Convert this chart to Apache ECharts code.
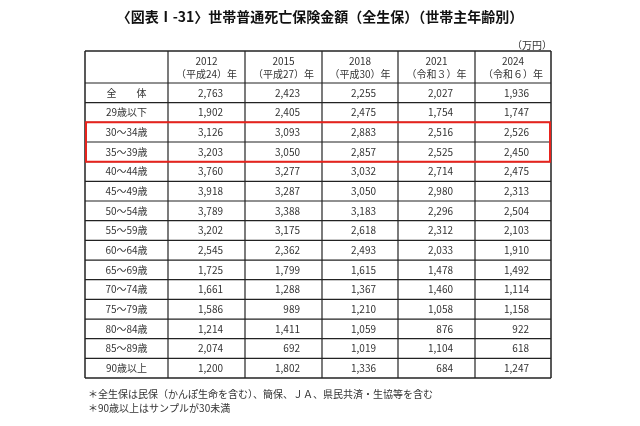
<!DOCTYPE html>
<html><head><meta charset="utf-8">
<script src="https://cdn.jsdelivr.net/npm/echarts@6/dist/echarts.min.js"></script>
<style>html,body{margin:0;background:#fff}#c{width:640px;height:426px}</style>
</head><body><div id="c"></div>
<script>
const years = ['2012', '2015', '2018', '2021', '2024'];
const eras = ['（平成24）年', '（平成27）年', '（平成30）年', '（令和３）年', '（令和６）年'];
const ages = ['全　　体', '29歳以下', '30～34歳', '35～39歳', '40～44歳', '45～49歳', '50～54歳', '55～59歳',
  '60～64歳', '65～69歳', '70～74歳', '75～79歳', '80～84歳', '85～89歳', '90歳以上'];
const v2012 = [2763, 1902, 3126, 3203, 3760, 3918, 3789, 3202, 2545, 1725, 1661, 1586, 1214, 2074, 1200];
const v2015 = [2423, 2405, 3093, 3050, 3277, 3287, 3388, 3175, 2362, 1799, 1288, 989, 1411, 692, 1802];
const v2018 = [2255, 2475, 2883, 2857, 3032, 3050, 3183, 2618, 2493, 1615, 1367, 1210, 1059, 1019, 1336];
const v2021 = [2027, 1754, 2516, 2525, 2714, 2980, 2296, 2312, 2033, 1478, 1460, 1058, 876, 1104, 684];
const v2024 = [1936, 1747, 2526, 2450, 2475, 2313, 2504, 2103, 1910, 1492, 1114, 1158, 922, 618, 1247];
const cols = [v2012, v2015, v2018, v2021, v2024];

const chart = echarts.init(document.getElementById('c'));
const F = '"Noto Sans CJK JP", sans-serif';
const xs = [85, 168, 245, 322, 398, 475, 551];
const tTop = 51, headH = 32, rowH = 19.67;
const tBottom = tTop + headH + rowH * ages.length;
const g = [];
const line = (x1, y1, x2, y2, w, c) => g.push({type: 'line', shape: {x1, y1, x2, y2}, style: {stroke: c || '#222', lineWidth: w || 1}});

g.push({type: 'text', x: 320, y: 17, style: {text: '〈図表Ⅰ-31〉世帯普通死亡保険金額（全生保）（世帯主年齢別）', font: 'bold 14px ' + F, fill: '#111', align: 'center', verticalAlign: 'middle'}});
g.push({type: 'text', x: 552, y: 45, style: {text: '（万円）', font: '10px ' + F, fill: '#333', align: 'right', verticalAlign: 'middle'}});

// grid lines
xs.forEach((x, i) => line(x, tTop, x, tBottom, (i === 0 || i === xs.length - 1) ? 1.5 : 1.2));
line(xs[0], tTop, xs[6], tTop, 1.5);
for (let r = 0; r <= ages.length; r++) {
  const y = tTop + headH + r * rowH;
  line(xs[0], y, xs[6], y, r === ages.length ? 1.5 : 1.2);
}
// header
years.forEach((y, i) => {
  const cx = (xs[i + 1] + xs[i + 2]) / 2;
  g.push({type: 'text', x: cx, y: tTop + 10, style: {text: y, font: '10px ' + F, fill: '#333', align: 'center', verticalAlign: 'middle'}});
  g.push({type: 'text', x: cx, y: tTop + 23, style: {text: eras[i], font: '10px ' + F, fill: '#333', align: 'center', verticalAlign: 'middle'}});
});
// rows
ages.forEach((a, r) => {
  const cy = tTop + headH + r * rowH + rowH / 2;
  g.push({type: 'text', x: (xs[0] + xs[1]) / 2, y: cy, style: {text: a, font: '10px ' + F, fill: '#333', align: 'center', verticalAlign: 'middle'}});
  cols.forEach((c, i) => {
    g.push({type: 'text', x: xs[i + 2] - 22, y: cy, style: {text: c[r].toLocaleString('en-US'), font: '10px ' + F, fill: '#333', align: 'right', verticalAlign: 'middle'}});
  });
});
// red highlight around 30-39
const ry = tTop + headH + 2 * rowH;
g.push({type: 'rect', shape: {x: 86, y: ry, width: 464, height: rowH * 2}, style: {fill: null, stroke: '#e8231d', lineWidth: 2}});
// notes
g.push({type: 'text', x: 88, y: tBottom + 16, style: {text: '＊全生保は民保（かんぽ生命を含む）、簡保、ＪＡ、県民共済・生協等を含む', font: '10px ' + F, fill: '#333', verticalAlign: 'middle'}});
g.push({type: 'text', x: 88, y: tBottom + 30, style: {text: '＊90歳以上はサンプルが30未満', font: '10px ' + F, fill: '#333', verticalAlign: 'middle'}});

chart.setOption({animation: false, graphic: {elements: g}});
</script></body></html>
